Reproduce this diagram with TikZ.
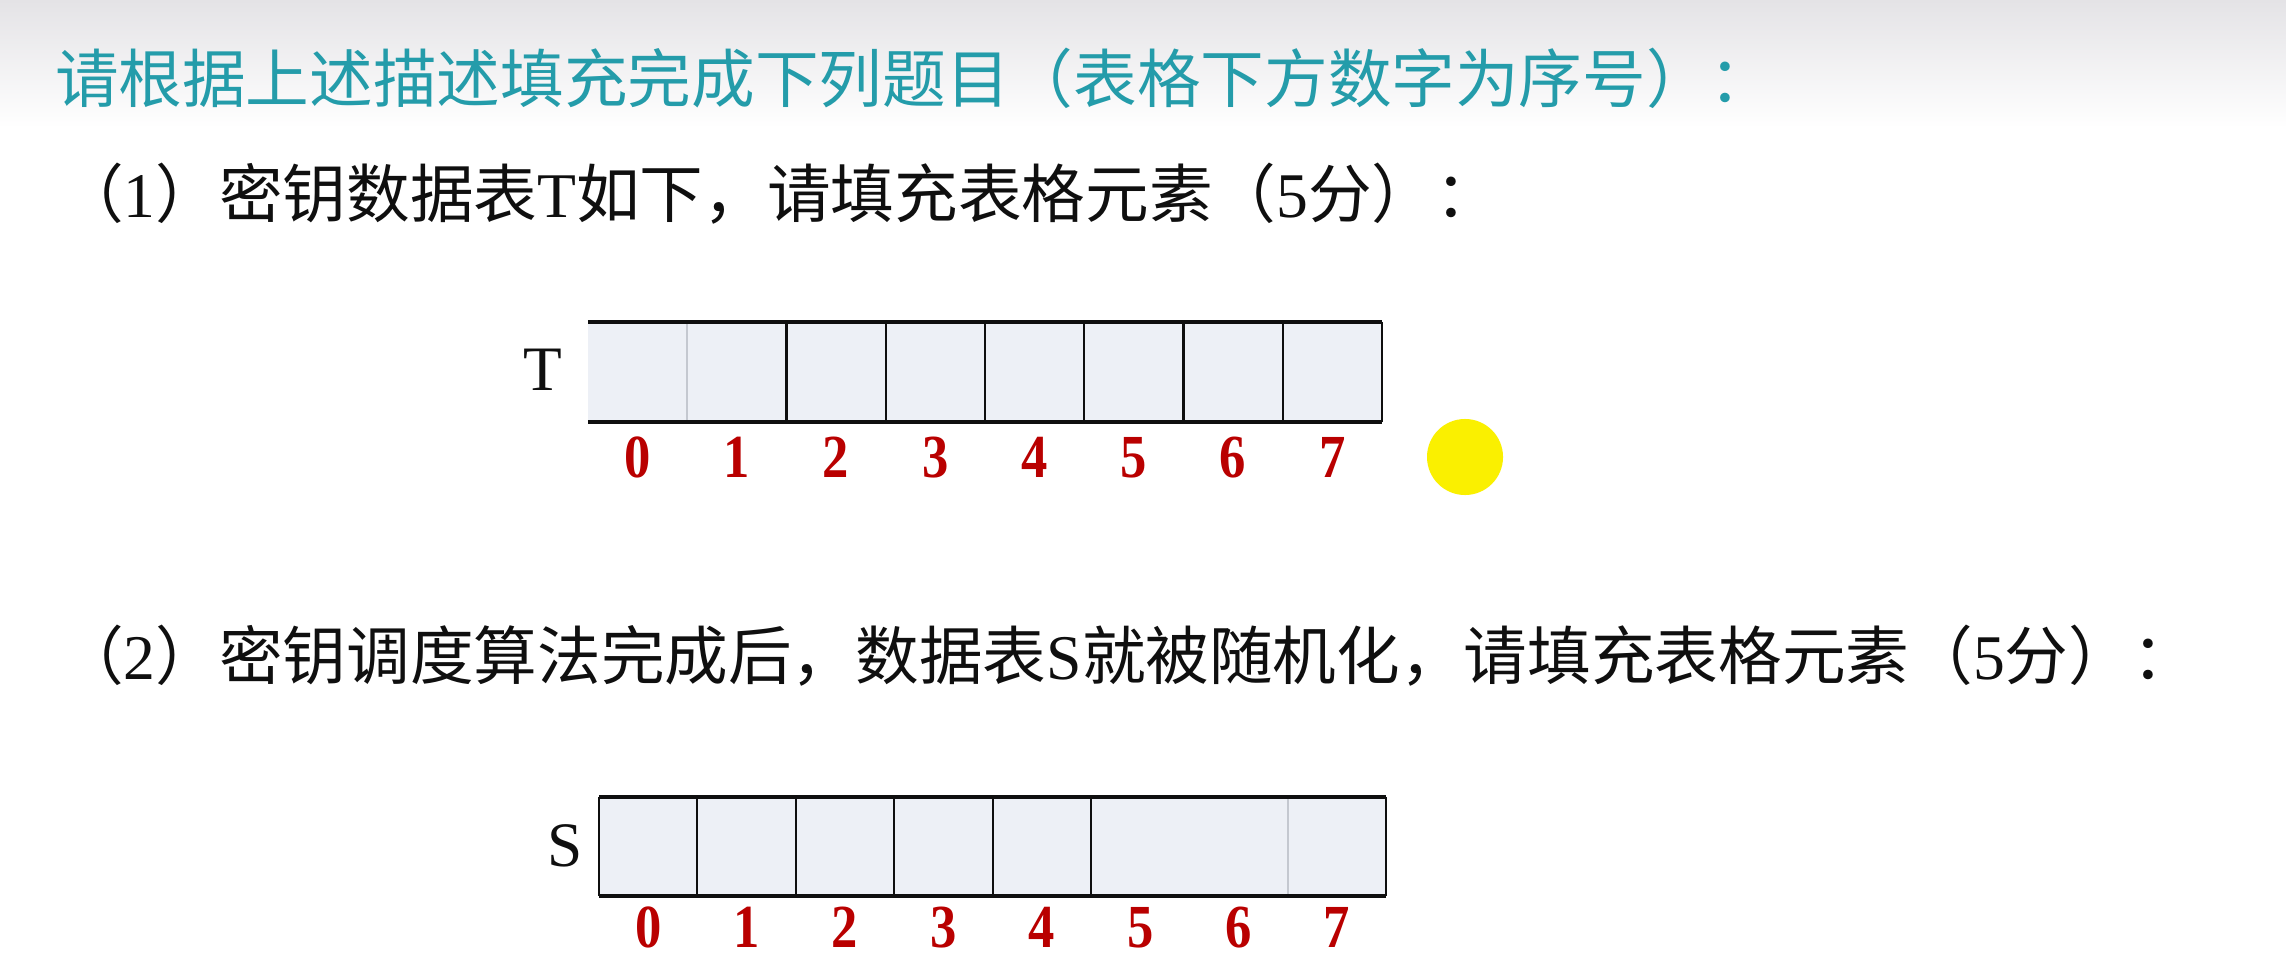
\documentclass[tikz,border=0pt]{standalone}
\usepackage{fontspec}
\setmainfont{Liberation Serif}
\newfontfamily\cjkf{Noto Sans CJK SC}
\newfontfamily\idxfont{Liberation Serif Bold}[FakeStretch=0.86]
\definecolor{titlecol}{RGB}{36,156,170}
\definecolor{cellfill}{RGB}{237,240,246}
\definecolor{lightdiv}{RGB}{196,200,208}
\definecolor{idxred}{RGB}{185,0,0}
\definecolor{bandtop}{RGB}{228,227,230}
\definecolor{dotyellow}{RGB}{250,240,0}
\definecolor{inkblack}{RGB}{15,15,15}
\begin{document}
\begin{tikzpicture}[x=0.01cm,y=-0.01cm,
  txt/.style={anchor=base west, inner sep=0, outer sep=0, text=inkblack,
    font=\fontsize{18.1pt}{20pt}\selectfont},
  titletxt/.style={txt, text=titlecol},
  tcell/.style={draw=none, fill=cellfill, inner sep=0, outer sep=0,
    minimum width=0.9925cm, minimum height=1cm},
  scell/.style={draw=none, fill=cellfill, inner sep=0, outer sep=0,
    minimum width=0.984cm, minimum height=0.99cm},
  idx/.style={anchor=base, inner sep=0, outer sep=0, text=idxred,
    font=\idxfont\fontsize{17.4pt}{19pt}\selectfont},
  lbl/.style={anchor=base, inner sep=0, outer sep=0, text=inkblack,
    font=\fontsize{18pt}{20pt}\selectfont},
  rim/.style={draw=inkblack, line width=1pt},
  div/.style={draw=inkblack, line width=0.6pt},
  ldiv/.style={draw=lightdiv, line width=0.5pt}]
\useasboundingbox (0,0) rectangle (2286,958);
\fill[white] (0,0) rectangle (2286,958);
\shade[top color=bandtop, bottom color=white] (0,0) rectangle (2286,128);

% title and questions
\node[titletxt] (title) at (55,103) {\cjkf 请根据上述描述填充完成下列题目（表格下方数字为序号）：};
\node[txt] (q1) at (60,218) {{\cjkf （}1{\cjkf ）密钥数据表}T{\cjkf 如下，请填充表格元素（}5{\cjkf 分）：}};
\node[txt] (q2) at (60,679) {{\cjkf （}2{\cjkf ）密钥调度算法完成后，数据表}S{\cjkf 就被随机化，请填充表格元素（}5{\cjkf 分）：}};

% table T
\node[lbl] (tlabel) at (543,390) {T};
\foreach \i in {0,...,7} {
  \node[tcell] (t\i) at ({588+99.25*(\i+0.5)},372) {};
  \node[idx] (tn\i) at ({588+99.25*(\i+0.5)},477) {\i};
}
\draw[ldiv] (t0.north east) -- (t0.south east);
\foreach \i in {1,...,7} { \draw[div] (t\i.north east) -- (t\i.south east); }
\draw[rim] (t0.north west) -- (t7.north east);
\draw[rim] (t0.south west) -- (t7.south east);

% table S
\node[lbl] (slabel) at (565,866) {S};
\foreach \i in {0,...,7} {
  \node[scell] (s\i) at ({599+98.4*(\i+0.5)},846.5) {};
  \node[idx] (sn\i) at ({599+98.4*(\i+0.5)},947) {\i};
}
\draw[div] (s0.north west) -- (s0.south west);
\foreach \i in {0,...,4} { \draw[div] (s\i.north east) -- (s\i.south east); }
\draw[ldiv] (s6.north east) -- (s6.south east);
\draw[div] (s7.north east) -- (s7.south east);
\draw[rim] (s0.north west) -- (s7.north east);
\draw[rim] (s0.south west) -- (s7.south east);

% pointer highlight
\node[circle, fill=dotyellow, draw=none, minimum size=0.76cm, inner sep=0] (dot) at (1465,457) {};
\end{tikzpicture}
\end{document}
